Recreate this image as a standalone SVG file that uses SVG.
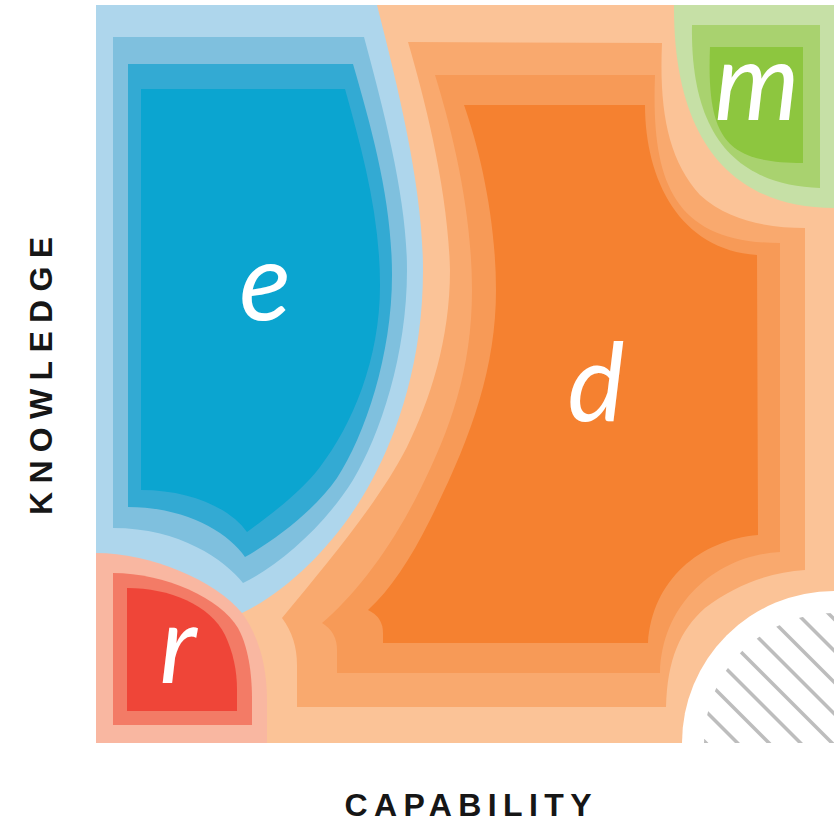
<svg xmlns="http://www.w3.org/2000/svg" width="834" height="823" viewBox="0 0 834 823">
<defs>
<style>
.o1{fill:#FBC397}.o2{fill:#F9A96E}.o3{fill:#F79A57}.o4{fill:#F58130}
.b1{fill:#AED6EC}.b2{fill:#7FC0DE}.b3{fill:#33AAD3}.b4{fill:#0BA5D0}
.r1{fill:#F9B7A1}.r2{fill:#F37B66}.r3{fill:#EF4538}
.g1{fill:#C6E0A6}.g2{fill:#A9D26F}.g3{fill:#8DC63F}
.lbl{font-family:Lato,"Open Sans","Liberation Sans",sans-serif;font-style:italic;font-weight:400;font-size:108px;fill:#fff;text-anchor:middle}
.axis{font-family:"Liberation Sans",Arial,sans-serif;font-weight:700;font-size:32px;fill:#161616;text-anchor:middle}
.hatch line{stroke:#BDBDBD;stroke-width:3.5}
</style>
<clipPath id="hc"><path d="M834,613 A130,130 0 0 0 704,743 L834,743 Z"/></clipPath>
</defs>
<rect x="0" y="0" width="834" height="823" fill="#fff"/>
<g id="region-d">
<rect class="o1" x="96" y="5" width="738" height="738"/>
<path class="o2" d="M408,42 L662,43 C659,110 668,160 700,195 C730,222 770,228 805,228 L805,570 C770,572 735,585 705,608 C680,630 667,660 666,707 L297,707 L297,665 Q297,638 282,618 C330,560 380,500 407,447 C430,400 450,340 450,270 C448,190 425,100 408,42 Z"/>
<path class="o3" d="M435,75 L655,75 C651,180 672,243 780,243 L780,552 C720,555 662,600 660,673 L337,673 L337,650 Q337,632 322,623 C355,595 390,550 420,490 C450,430 472,370 472,290 C472,210 452,130 435,75 Z"/>
<path class="o4" d="M464,105 L645,105 C645,180 680,250 757,255 L758,535 C700,540 652,580 648,643 L383,643 L383,633 Q383,617 368,610 C390,590 410,560 430,520 C470,440 496,370 496,290 C496,220 480,150 464,105 Z"/>
<text class="lbl" x="596" y="421">d</text>
</g>
<g id="region-e">
<path class="b1" d="M96,5 L377,5 C400,95 423,190 423,270 C423,360 398,432 372,480 C340,540 290,590 242,613 L236,620 L96,620 Z"/>
<path class="b2" d="M113,37 L364,37 C385,115 407,200 407,270 C407,355 380,435 353,480 C325,525 280,565 243,583 C225,560 180,528 113,528 Z"/>
<path class="b3" d="M128,64 L353,64 C372,130 392,200 392,275 C392,355 365,435 337,478 C315,510 275,540 245,557 C228,532 185,507 128,507 Z"/>
<path class="b4" d="M141,89 L345,89 C362,150 380,215 380,285 C380,360 352,425 320,467 C300,493 270,515 247,532 C230,508 190,490 141,490 Z"/>
<text class="lbl" x="265" y="320">e</text>
</g>
<g id="region-r">
<path class="r1" d="M96,553 C150,553 215,580 242,613 C258,635 267,665 267,700 L267,743 L96,743 Z"/>
<path class="r2" d="M113,573 C165,573 220,598 238,628 C250,650 252,680 252,700 L252,725 L113,725 Z"/>
<path class="r3" d="M127,588 C170,588 210,605 225,635 C233,652 237,670 237,690 L237,711 L127,711 Z"/>
<text class="lbl" x="178" y="683">r</text>
</g>
<g id="region-m">
<path class="g1" d="M674,5 L834,5 L834,208 C740,208 673,150 674,5 Z"/>
<path class="g2" d="M692,25 L820,25 L820,188 C740,185 690,140 692,25 Z"/>
<path class="g3" d="M710,47 L803,47 L803,163 C730,162 706,145 710,47 Z"/>
<text class="lbl" x="757" y="120">m</text>
</g>
<g id="region-hatch">
<path d="M834,591 A152,152 0 0 0 682,743 L834,743 Z" fill="#fff"/>
<g class="hatch" clip-path="url(#hc)">
<line x1="543" y1="580" x2="723" y2="760"/>
<line x1="574.5" y1="580" x2="754.5" y2="760"/>
<line x1="606" y1="580" x2="786" y2="760"/>
<line x1="637.5" y1="580" x2="817.5" y2="760"/>
<line x1="669" y1="580" x2="849" y2="760"/>
<line x1="700.5" y1="580" x2="880.5" y2="760"/>
<line x1="732" y1="580" x2="912" y2="760"/>
<line x1="763.5" y1="580" x2="943.5" y2="760"/>
<line x1="795" y1="580" x2="975" y2="760"/>
</g>
</g>
<g id="axis-labels">
<text class="axis" x="468" y="816" textLength="247" lengthAdjust="spacing">CAPABILITY</text>
<text class="axis" transform="translate(52,376) rotate(-90)" textLength="278" lengthAdjust="spacing">KNOWLEDGE</text>
</g>
</svg>
